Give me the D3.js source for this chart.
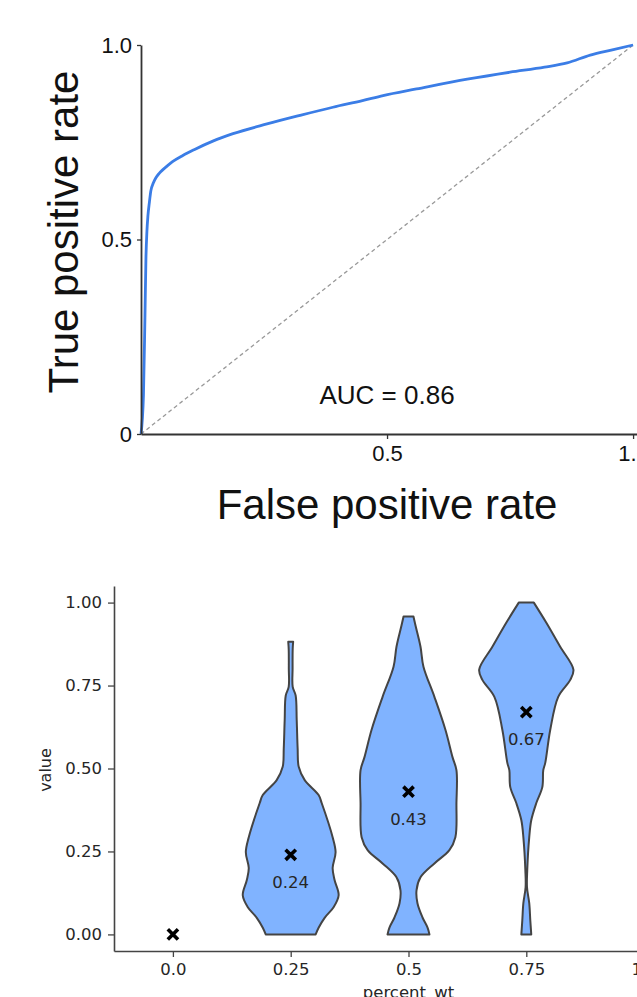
<!doctype html>
<html>
  <head>
    <meta charset="utf-8"/>
    <title>ROC and violin</title>
    <style>
      body, html {
        margin: 0;
        padding: 0;
        background: white;
      }
      svg { display: block; }
      .roc text { font-family: "Liberation Sans", Arial, sans-serif; fill: #111; }
      .vio text { font-family: "DejaVu Sans", sans-serif; fill: #262626; }
    </style>
    <script src="https://d3js.org/d3.v7.min.js"></script>
  </head>
  <body>
    <svg width="637" height="997"></svg>
    <script>
      // ROC curve
      var fpr = [0, 0.005, 0.008, 0.010, 0.012, 0.014, 0.017, 0.020, 0.025, 0.030, 0.037, 0.044,
                 0.054, 0.064, 0.085, 0.108, 0.146, 0.187, 0.256, 0.323, 0.39, 0.45, 0.492,
                 0.56, 0.663, 0.75, 0.82, 0.866, 0.913, 0.96, 1.0];
      var tpr = [0, 0.1, 0.3, 0.45, 0.52, 0.56, 0.595, 0.625, 0.645, 0.658, 0.670, 0.679,
                 0.690, 0.700, 0.716, 0.731, 0.753, 0.772, 0.797, 0.819, 0.840, 0.857, 0.870,
                 0.887, 0.912, 0.930, 0.943, 0.954, 0.974, 0.988, 1.0];
      var auc = 0.86;
      var rocYTicks = [0, 0.5, 1];
      var rocYLabels = ["0", "0.5", "1.0"];
      var rocXTicks = [0.5, 1];
      var rocXLabels = ["0.5", "1.0"];

      // violin plot
      var categories = ["0.0", "0.25", "0.5", "0.75", "1.0"];
      var means = [0, 0.24, 0.43, 0.67];
      var valueTicks = [0, 0.25, 0.5, 0.75, 1];
      // [value, half width as share of category step]
      var violin025 = [[0, 0.212], [0.02, 0.237], [0.05, 0.288], [0.082, 0.364], [0.118, 0.407],
                       [0.163, 0.373], [0.2, 0.356], [0.248, 0.381], [0.293, 0.356], [0.396, 0.263],
                       [0.42, 0.237], [0.465, 0.119], [0.505, 0.068], [0.56, 0.059], [0.646, 0.051],
                       [0.72, 0.042], [0.746, 0.017], [0.80, 0.016], [0.86, 0.017], [0.882, 0.021]];
      var violin050 = [[0, 0.178], [0.021, 0.161], [0.051, 0.119], [0.094, 0.076], [0.133, 0.068],
                       [0.172, 0.102], [0.214, 0.22], [0.254, 0.347], [0.293, 0.398], [0.396, 0.407],
                       [0.495, 0.407], [0.535, 0.373], [0.616, 0.314], [0.716, 0.22], [0.807, 0.127],
                       [0.867, 0.102], [0.93, 0.06], [0.958, 0.042]];
      var violin075 = [[0, 0.042], [0.042, 0.034], [0.094, 0.025], [0.142, 0.006], [0.193, 0.008],
                       [0.293, 0.025], [0.344, 0.042], [0.396, 0.085], [0.444, 0.136], [0.495, 0.144],
                       [0.517, 0.161], [0.616, 0.203], [0.716, 0.271], [0.767, 0.373], [0.798, 0.40],
                       [0.867, 0.288], [0.94, 0.169], [1.0, 0.064]];
      var violins = [null, violin025, violin050, violin075];

      var svg = d3.select("svg");

      // ---------- top: ROC ----------
      var roc = svg.append("g").attr("class", "roc");
      var xr = d3.scaleLinear().domain([0, 1.01]).range([141, 638]);
      var yr = d3.scaleLinear().domain([0, 1]).range([434, 45]);

      roc.append("line")
        .attr("x1", xr(0)).attr("y1", yr(0))
        .attr("x2", xr(1)).attr("y2", yr(1))
        .attr("stroke", "#999")
        .attr("stroke-width", 1.3)
        .attr("stroke-dasharray", "4,3");

      var rocLine = d3.line()
        .x(function(d) { return xr(d[0]); })
        .y(function(d) { return yr(d[1]); })
        .curve(d3.curveMonotoneX);

      roc.append("path")
        .datum(d3.zip(fpr, tpr))
        .attr("d", rocLine)
        .attr("fill", "none")
        .attr("stroke", "#3b7de6")
        .attr("stroke-width", 2.8);

      var yAxisR = roc.append("g")
        .attr("transform", "translate(" + xr(0) + ",0)")
        .call(d3.axisLeft(yr).tickValues(rocYTicks).tickSize(4).tickPadding(5).tickSizeOuter(0)
          .tickFormat(function(d, i) { return rocYLabels[i]; }));
      var xAxisR = roc.append("g")
        .attr("transform", "translate(0," + yr(0) + ")")
        .call(d3.axisBottom(xr).tickValues(rocXTicks).tickSize(5).tickPadding(6).tickSizeOuter(0)
          .tickFormat(function(d, i) { return rocXLabels[i]; }));
      [yAxisR, xAxisR].forEach(function(a) {
        a.select(".domain").attr("stroke", "#333").attr("stroke-width", 1.8);
        a.selectAll(".tick line").attr("stroke", "#333").attr("stroke-width", 1.3);
        a.selectAll("text").attr("font-size", "22px").attr("fill", "#111")
          .attr("font-family", "Liberation Sans, Arial, sans-serif");
      });

      roc.append("text")
        .attr("x", xr(0.5))
        .attr("y", yr(0.077))
        .attr("text-anchor", "middle")
        .attr("font-size", "26px")
        .text("AUC = " + auc.toFixed(2));

      roc.append("text")
        .attr("transform", "translate(78,232) rotate(-90)")
        .attr("text-anchor", "middle")
        .attr("font-size", "42px")
        .text("True positive rate");

      roc.append("text")
        .attr("x", xr(0.5))
        .attr("y", 519)
        .attr("text-anchor", "middle")
        .attr("font-size", "42px")
        .text("False positive rate");

      // ---------- bottom: violins ----------
      var vio = svg.append("g").attr("class", "vio");
      var xv = d3.scalePoint().domain(categories).range([114, 703]).padding(0.5);
      var yv = d3.scaleLinear().domain([-0.05, 1.05]).range([951, 586]);
      var step = xv.step();

      violins.forEach(function(prof, i) {
        if (!prof) return;
        var cx = xv(categories[i]);
        var area = d3.area()
          .y(function(d) { return yv(d[0]); })
          .x0(function(d) { return cx - d[1] * step; })
          .x1(function(d) { return cx + d[1] * step; })
          .curve(d3.curveCatmullRom);
        vio.append("path")
          .datum(prof)
          .attr("d", area)
          .attr("fill", "#80b3ff")
          .attr("stroke", "#444")
          .attr("stroke-width", 2)
          .attr("stroke-linejoin", "round");
      });

      var xSym = d3.symbol().type(d3.symbolX).size(70);
      means.forEach(function(m, i) {
        var cx = xv(categories[i]);
        vio.append("path")
          .attr("d", xSym)
          .attr("transform", "translate(" + cx + "," + yv(m) + ")")
          .attr("fill", "none")
          .attr("stroke", "black")
          .attr("stroke-width", 3.6);
        if (m > 0) {
          vio.append("text")
            .attr("x", cx)
            .attr("y", yv(m) + 33)
            .attr("text-anchor", "middle")
            .attr("font-size", "16.5px")
            .attr("fill", "#222")
            .text(m.toFixed(2));
        }
      });

      var yAxisV = vio.append("g")
        .attr("transform", "translate(114,0)")
        .call(d3.axisLeft(yv).tickValues(valueTicks).tickSize(6).tickPadding(6).tickSizeOuter(0)
          .tickFormat(d3.format(".2f")));
      var xAxisV = vio.append("g")
        .attr("transform", "translate(0,951)")
        .call(d3.axisBottom(xv).tickSize(6).tickPadding(6).tickSizeOuter(0));
      [yAxisV, xAxisV].forEach(function(a) {
        a.select(".domain").attr("stroke", "#444").attr("stroke-width", 1.6);
        a.selectAll(".tick line").attr("stroke", "#444").attr("stroke-width", 1.3);
        a.selectAll("text").attr("font-size", "16.5px").attr("fill", "#262626")
          .attr("font-family", "DejaVu Sans, sans-serif");
      });

      vio.append("text")
        .attr("transform", "translate(51,770) rotate(-90)")
        .attr("text-anchor", "middle")
        .attr("font-size", "16px")
        .text("value");

      vio.append("text")
        .attr("x", xv("0.5"))
        .attr("y", 998)
        .attr("text-anchor", "middle")
        .attr("font-size", "16.5px")
        .text("percent_wt");
    </script>
  </body>
</html>
